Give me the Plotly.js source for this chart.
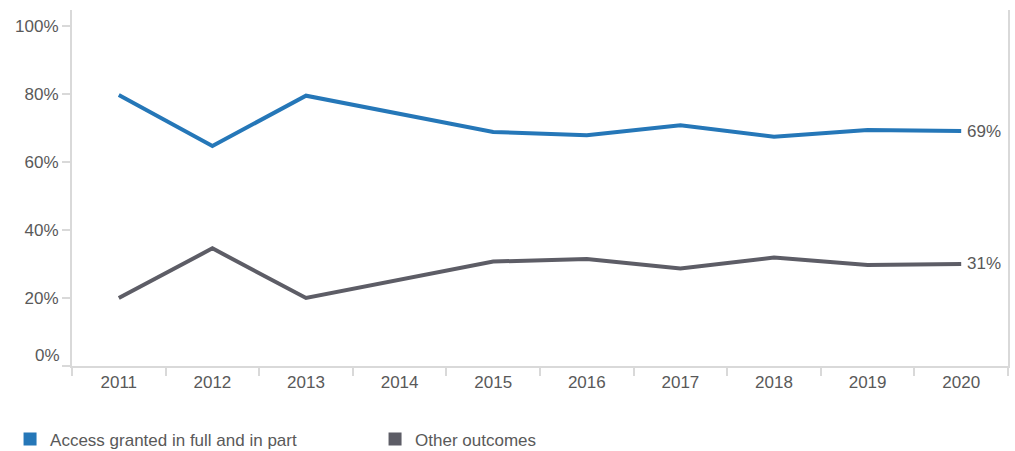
<!DOCTYPE html>
<html>
<head>
<meta charset="utf-8">
<script src="https://cdn.plot.ly/plotly-3.0.1.min.js"></script>
<style>html,body{margin:0;padding:0;background:#fff;}#chart{width:1015px;height:451px;}</style>
</head>
<body>
<div id="chart"></div>
<script>
var years = ['2011','2012','2013','2014','2015','2016','2017','2018','2019','2020'];
var accessGranted = [79.7, 64.7, 79.5, 74.3, 68.8, 67.9, 70.8, 67.4, 69.4, 69.1];
var otherOutcomes = [20.0, 34.6, 20.0, 25.3, 30.7, 31.5, 28.7, 31.9, 29.7, 30.0];
var seriesNames = ['Access granted in full and in part', 'Other outcomes'];
var endLabels = ['69%', '31%'];
var yTicks = [0, 20, 40, 60, 80, 100];
var yTickText = ['', '20%', '40%', '60%', '80%', '100%'];

var blue = '#2577b8';
var grey = '#5d5d66';
var txt = '#595959';
var axisCol = '#d9d9d9';
var font = {family: '"Liberation Sans", Arial, sans-serif', size: 17, color: txt};

var traces = [
  {x: years, y: accessGranted, type: 'scatter', mode: 'lines', line: {color: blue, width: 4}, showlegend: false, hoverinfo: 'skip'},
  {x: years, y: otherOutcomes, type: 'scatter', mode: 'lines', line: {color: grey, width: 4}, showlegend: false, hoverinfo: 'skip'},
  {x: [null], y: [null], type: 'scatter', mode: 'markers', name: seriesNames[0], marker: {symbol: 'square', size: 13, color: blue}},
  {x: [null], y: [null], type: 'scatter', mode: 'markers', name: seriesNames[1], marker: {symbol: 'square', size: 13, color: grey}}
];

var layout = {
  width: 1015, height: 451,
  margin: {l: 72, r: 7, t: 10, b: 85, autoexpand: false},
  paper_bgcolor: '#fff', plot_bgcolor: '#fff',
  font: font,
  showlegend: true,
  legend: {orientation: 'h', xref: 'container', yref: 'paper', x: 0.0099, y: -0.2065, xanchor: 'left', yanchor: 'middle',
           font: font, entrywidth: 320, entrywidthmode: 'pixels', itemclick: false, itemdoubleclick: false},
  xaxis: {type: 'category', range: [-0.5, 9.5], showline: true, linecolor: axisCol, linewidth: 2,
          ticks: 'outside', tickson: 'boundaries', ticklen: 8, tickcolor: axisCol, tickwidth: 2,
          showgrid: false, zeroline: false, tickfont: font, fixedrange: true},
  yaxis: {range: [0, 104.7], tickvals: yTicks, ticktext: yTickText, showline: true, mirror: true, linecolor: axisCol, linewidth: 2,
          ticks: 'outside', ticklen: 8, tickcolor: axisCol, tickwidth: 2, showgrid: false, zeroline: false,
          tickfont: font, fixedrange: true},
  annotations: [
    {xref: 'x', yref: 'y', x: 9, y: accessGranted[9], text: endLabels[0], showarrow: false, xanchor: 'left', xshift: 4, font: font},
    {xref: 'x', yref: 'y', x: 9, y: otherOutcomes[9], text: endLabels[1], showarrow: false, xanchor: 'left', xshift: 4, font: font},
    {xref: 'paper', yref: 'y', x: 0, y: 0, text: '0%', showarrow: false, xanchor: 'right', xshift: -10, yshift: 11, font: font}
  ]
};

Plotly.newPlot('chart', traces, layout, {displayModeBar: false, staticPlot: true});
</script>
</body>
</html>
